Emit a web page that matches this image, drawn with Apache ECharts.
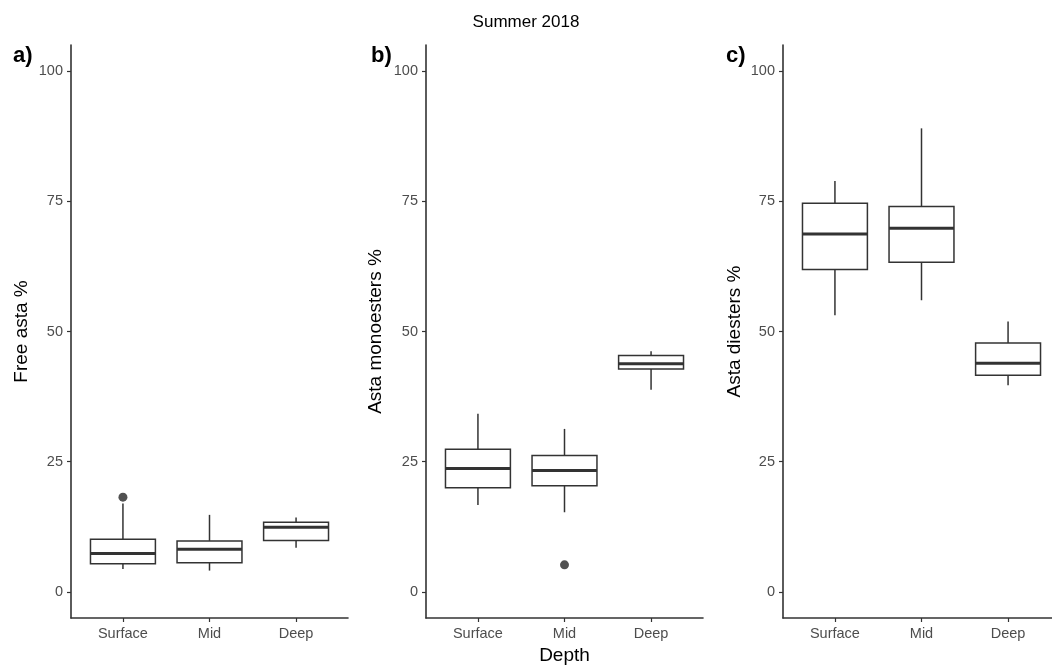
<!DOCTYPE html>
<html>
<head>
<meta charset="utf-8">
<script src="https://cdn.jsdelivr.net/npm/echarts@6/dist/echarts.min.js"></script>
<style>
html,body{margin:0;padding:0;background:#fff;}
#chart{width:1052px;height:665px;}
</style>
</head>
<body>
<div id="chart"></div>
<script>
// ---- data (box stats: [lowerWhisker, Q1, median, Q3, upperWhisker]) ----
const categories = ['Surface', 'Mid', 'Deep'];
const yTicks = [0, 25, 50, 75, 100];

const freeAstaStats = [
  [4.4, 5.4, 7.4, 10.1, 17.0],
  [4.1, 5.6, 8.2, 9.8, 14.8],
  [8.5, 9.9, 12.4, 13.4, 14.3]
];
const freeAstaOutliers = [['Surface', 18.2]];

const monoestersStats = [
  [16.7, 20.0, 23.7, 27.4, 34.2],
  [15.3, 20.4, 23.3, 26.2, 31.3],
  [38.8, 42.8, 43.8, 45.4, 46.2]
];
const monoestersOutliers = [['Mid', 5.2]];

const diestersStats = [
  [53.1, 61.9, 68.7, 74.6, 78.9],
  [56.0, 63.3, 69.8, 74.0, 89.0],
  [39.7, 41.6, 43.9, 47.8, 51.9]
];
const diestersOutliers = [];

const panelLabels = ['a)', 'b)', 'c)'];
const yTitles = ['Free asta %', 'Asta monoesters %', 'Asta diesters %'];
const chartTitle = 'Summer 2018';
const xTitle = 'Depth';

// ---- layout ----
const panels = [
  {stats: freeAstaStats, out: freeAstaOutliers, left: 71, gap: 39.5, labelLeft: 13},
  {stats: monoestersStats, out: monoestersOutliers, left: 426, gap: 40.5, labelLeft: 371},
  {stats: diestersStats, out: diestersOutliers, left: 783, gap: 38.5, labelLeft: 726}
];
const INK = '#333333';
const FONT = '"Liberation Sans", Arial, Helvetica, sans-serif';

function boxData(stats) {
  return stats.map((s, i) => [i + 1].concat(s));
}
function outlierData(out) {
  return out.map(o => [categories.indexOf(o[0]) + 1, o[1]]);
}

function renderBox(params, api) {
  const x = api.value(0);
  const lo = api.value(1), q1 = api.value(2), med = api.value(3), q3 = api.value(4), hi = api.value(5);
  const hw = 0.375;
  const tl = api.coord([x - hw, q3]);
  const br = api.coord([x + hw, q1]);
  const cTop = api.coord([x, hi]);
  const cQ3 = api.coord([x, q3]);
  const cQ1 = api.coord([x, q1]);
  const cLo = api.coord([x, lo]);
  const mL = api.coord([x - hw, med]);
  const mR = api.coord([x + hw, med]);
  const lineStyle = {stroke: INK, lineWidth: 1.5, fill: null};
  return {
    type: 'group',
    children: [
      {type: 'line', shape: {x1: cTop[0], y1: cTop[1], x2: cQ3[0], y2: cQ3[1]}, style: lineStyle},
      {type: 'line', shape: {x1: cQ1[0], y1: cQ1[1], x2: cLo[0], y2: cLo[1]}, style: lineStyle},
      {type: 'rect', shape: {x: tl[0], y: tl[1], width: br[0] - tl[0], height: br[1] - tl[1]},
        style: {stroke: INK, lineWidth: 1.5, fill: '#ffffff'}},
      {type: 'line', shape: {x1: mL[0], y1: mL[1], x2: mR[0], y2: mR[1]},
        style: {stroke: INK, lineWidth: 3}}
    ]
  };
}

const grids = [], xAxes = [], yAxes = [], series = [], graphics = [];
panels.forEach((p, i) => {
  grids.push({left: p.left, width: 277, top: 45, height: 573, containLabel: false, outerBoundsMode: 'none'});
  xAxes.push({
    type: 'value', gridIndex: i, min: 0.4, max: 3.6,
    name: i === 1 ? xTitle : '', nameLocation: 'middle', nameGap: 28,
    nameTextStyle: {color: '#000', fontSize: 19, fontFamily: FONT},
    axisLine: {show: true, onZero: false, lineStyle: {color: INK, width: 1.6}},
    axisTick: {show: true, length: 4, lineStyle: {color: INK, width: 1.2}, customValues: [1, 2, 3]},
    axisLabel: {color: '#4d4d4d', fontSize: 14.5, fontFamily: FONT, margin: 8,
      customValues: [1, 2, 3], formatter: v => categories[Math.round(v) - 1] || ''},
    splitLine: {show: false}
  });
  yAxes.push({
    type: 'value', gridIndex: i, min: -5, max: 105,
    name: yTitles[i], nameLocation: 'middle', nameGap: p.gap, nameRotate: 90,
    nameTextStyle: {color: '#000', fontSize: 19, fontFamily: FONT},
    axisLine: {show: true, onZero: false, lineStyle: {color: INK, width: 1.6}},
    axisTick: {show: true, length: 4, lineStyle: {color: INK, width: 1.2}, customValues: yTicks},
    axisLabel: {color: '#4d4d4d', fontSize: 14.5, fontFamily: FONT, margin: 8, customValues: yTicks},
    splitLine: {show: false}
  });
  series.push({
    type: 'custom', xAxisIndex: i, yAxisIndex: i,
    renderItem: renderBox, data: boxData(p.stats), clip: false,
    encode: {x: 0, y: [1, 2, 3, 4, 5]}
  });
  series.push({
    type: 'scatter', xAxisIndex: i, yAxisIndex: i,
    data: outlierData(p.out), symbolSize: 9,
    itemStyle: {color: '#262626'}
  });
  graphics.push({
    type: 'text', left: p.labelLeft, top: 45,
    style: {text: panelLabels[i], fill: '#000', font: 'bold 22px ' + FONT}
  });
});

const chart = echarts.init(document.getElementById('chart'), null, {renderer: 'canvas'});
chart.setOption({
  animation: false,
  backgroundColor: '#ffffff',
  title: {text: chartTitle, left: 'center', top: 9,
    textStyle: {fontSize: 17, fontWeight: 'normal', color: '#000', fontFamily: FONT}},
  grid: grids,
  xAxis: xAxes,
  yAxis: yAxes,
  series: series,
  graphic: graphics
});
</script>
</body>
</html>
